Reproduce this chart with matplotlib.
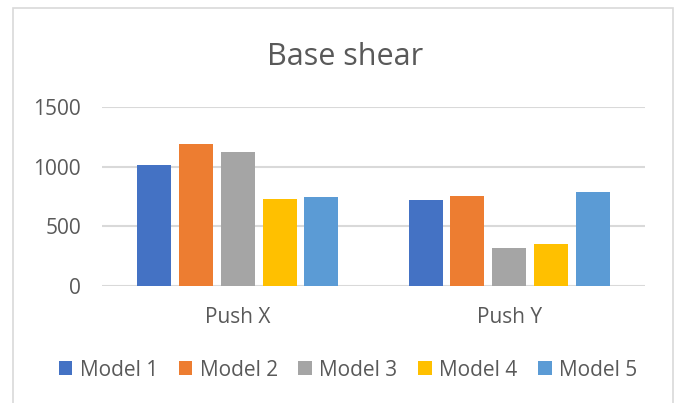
import matplotlib
matplotlib.use("Agg")
import matplotlib.pyplot as plt
import numpy as np
from matplotlib.patches import Rectangle

# values
categories = ["Push X", "Push Y"]
models = ["Model 1", "Model 2", "Model 3", "Model 4", "Model 5"]
model_1 = [1017, 723]
model_2 = [1187, 757]
model_3 = [1123, 316]
model_4 = [732, 349]
model_5 = [746, 788]
colors = ["#4472C4", "#ED7D31", "#A5A5A5", "#FFC000", "#5B9BD5"]
y_ticks = [0, 500, 1000, 1500]

plt.rcParams['font.family'] = ['Open Sans', 'DejaVu Sans']

fig = plt.figure(figsize=(6.78, 4.03), dpi=100)
ax = fig.add_axes([102/678, 1 - 286/403, 543/678, 179/403])

series = [model_1, model_2, model_3, model_4, model_5]
x = np.arange(len(categories))
width = 0.125
pitch = 0.154
for i, vals in enumerate(series):
    ax.bar(x + (i - 2) * pitch, vals, width=width, color=colors[i],
           label=models[i], zorder=3)

ax.set_xlim(-0.5, 1.5)
ax.set_ylim(0, 1500)
ax.set_yticks(y_ticks)
ax.set_xticks(x)
ax.set_xticklabels(categories)
ax.grid(axis='y', color='#d9d9d9', linewidth=1.5, zorder=0)
for s in ['top', 'right', 'left', 'bottom']:
    ax.spines[s].set_visible(False)
ax.tick_params(length=0, labelsize=15, labelcolor='#595959')
ax.tick_params(axis='y', pad=15)
ax.tick_params(axis='x', pad=15)

fig.text(345/678, 1 - 65/403, "Base shear", ha='center', va='baseline',
         fontsize=22, color='#595959')

fig.legend(*ax.get_legend_handles_labels(), loc='center',
           bbox_to_anchor=(348/678, 1 - 370/403), ncol=5, frameon=False,
           fontsize=15, handlelength=0.65, handleheight=0.65, handletextpad=0.35,
           columnspacing=1.0, labelcolor='#595959', borderaxespad=0)

# outer chart border
fig.patches.append(Rectangle((13/678, -0.05), 660/678, 1 - 8/403 + 0.05,
                             transform=fig.transFigure, fill=False,
                             edgecolor='#d9d9d9', linewidth=1.2))

fig.savefig("out.png", dpi=100)
